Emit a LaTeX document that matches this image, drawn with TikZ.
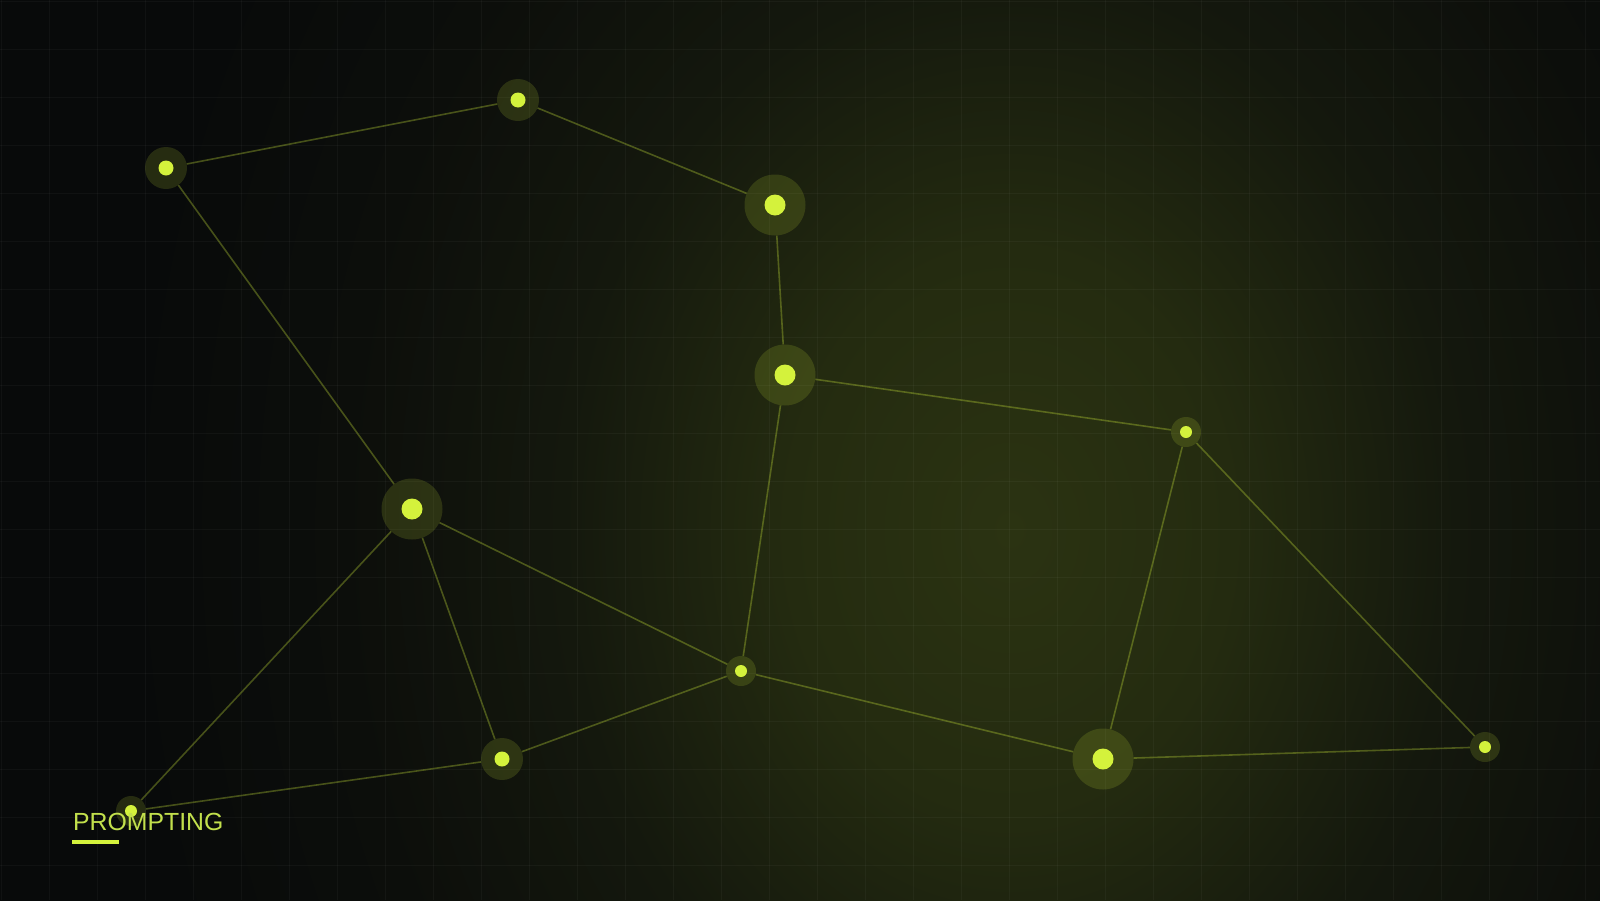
\documentclass[tikz,border=0pt]{standalone}
\usepackage{fontspec}
\setmainfont{Liberation Sans}

\definecolor{fundo}{HTML}{07090A}
\definecolor{brilhoA}{HTML}{2B3312}
\definecolor{brilhoB}{HTML}{242B10}
\definecolor{brilhoC}{HTML}{14180D}
\definecolor{brilhoD}{HTML}{0C0E0B}
\definecolor{brilhoE}{HTML}{080A0A}
\definecolor{lima}{HTML}{D4F23C}
\definecolor{textolima}{HTML}{C2E04C}

\pgfdeclareradialshading{brilho}{\pgfpoint{0bp}{0bp}}{%
  color(0bp)=(brilhoA); color(3.85bp)=(brilhoB); color(7.7bp)=(brilhoC);
  color(11.5bp)=(brilhoD); color(15.4bp)=(brilhoE); color(25bp)=(fundo);
  color(50bp)=(fundo)}

\tikzset{
  halo/.style={circle, inner sep=0pt, fill=lima, fill opacity=0.15},
  ponto/.style={circle, inner sep=0pt, fill=lima, fill opacity=1},
  grande/.style={halo, minimum size=61pt, label={[ponto, minimum size=21pt]center:{}}},
  medio/.style={halo, minimum size=42pt, label={[ponto, minimum size=15pt]center:{}}},
  pequeno/.style={halo, minimum size=30pt, label={[ponto, minimum size=12pt]center:{}}},
  aresta/.style={draw=lima, draw opacity=0.3, line width=1.6pt},
  grade/.style={draw=white, draw opacity=0.035, line width=1pt},
  texto/.style={text=textolima, inner sep=0pt, font=\fontsize{24.8}{30}\selectfont}
}

\begin{document}
\begin{tikzpicture}[x=1pt, y=-1pt]
    \useasboundingbox (0,0) rectangle (1600,900);
    \clip (0,0) rectangle (1600,900);

    % Fundo escuro com brilho verde
    \fill[fundo] (0,0) rectangle (1600,900);
    \shade[shading=brilho] (1010,530) ellipse [x radius=1450, y radius=1820];

    % Grade
    \foreach \gx in {1,49,...,1585} \draw[grade] (\gx,0) -- (\gx,900);
    \foreach \gy in {1,49,...,865} \draw[grade] (0,\gy) -- (1600,\gy);

    % Nos
    \node[medio]   (a) at ( 166,168) {};
    \node[medio]   (b) at ( 518,100) {};
    \node[grande]  (c) at ( 775,205) {};
    \node[grande]  (d) at ( 785,375) {};
    \node[pequeno] (e) at (1186,432) {};
    \node[grande]  (f) at ( 412,509) {};
    \node[pequeno] (g) at ( 741,671) {};
    \node[medio]   (h) at ( 502,759) {};
    \node[grande]  (i) at (1103,759) {};
    \node[pequeno] (j) at (1485,747) {};
    \node[pequeno] (k) at ( 131,811) {};

    % Arestas
    \draw[aresta] (a) -- (b);
    \draw[aresta] (b) -- (c);
    \draw[aresta] (c) -- (d);
    \draw[aresta] (d) -- (e);
    \draw[aresta] (d) -- (g);
    \draw[aresta] (a) -- (f);
    \draw[aresta] (f) -- (g);
    \draw[aresta] (f) -- (h);
    \draw[aresta] (f) -- (k);
    \draw[aresta] (h) -- (g);
    \draw[aresta] (k) -- (h);
    \draw[aresta] (g) -- (i);
    \draw[aresta] (e) -- (i);
    \draw[aresta] (e) -- (j);
    \draw[aresta] (i) -- (j);

    % Rotulo
    \node[texto, anchor=base west] (rotulo) at (73,830) {PROMPTING};
    \fill[lima] (72,840) rectangle (119,843.5); % sublinhado
\end{tikzpicture}
\end{document}
